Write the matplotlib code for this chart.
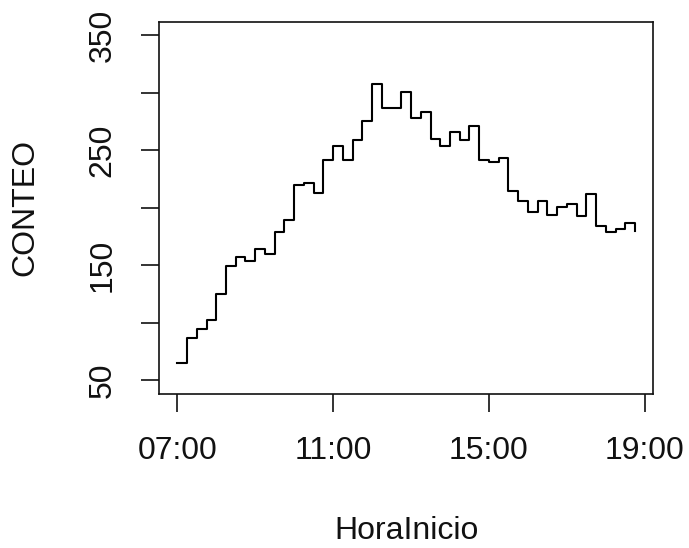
import numpy as np
import matplotlib
matplotlib.use("Agg")
import matplotlib.pyplot as plt

# conteo cada 15 minutos, de 07:00 a 18:45
hora_inicio = np.arange(7.0, 19.0, 0.25)
conteo = [65, 87, 95, 102, 125, 149, 157, 154, 164, 160, 179, 189,
          220, 222, 213, 242, 254, 242, 259, 276, 308, 287, 287, 301,
          278, 283, 260, 254, 266, 259, 271, 242, 240, 243, 215, 206,
          196, 206, 194, 201, 203, 193, 212, 184, 179, 182, 187, 180]

xticks = [7, 11, 15, 19]
xtick_labels = ["07:00", "11:00", "15:00", "19:00"]
yticks = [50, 100, 150, 200, 250, 300, 350]
ytick_labels = ["50", "", "150", "", "250", "", "350"]

plt.rcParams['font.family'] = ['Liberation Sans', 'DejaVu Sans']

fig = plt.figure(figsize=(6.89, 5.48), dpi=100)
ax = fig.add_axes([0.2308, 0.2810, 0.9482 - 0.2308, 0.9604 - 0.2810])

ax.step(hora_inicio, conteo, where='post', color='black', linewidth=1.5)

# rangos como en R (4% extra)
x0, x1 = hora_inicio[0], hora_inicio[-1]
dx = 0.04 * (x1 - x0)
ax.set_xlim(x0 - dx, x1 + dx)
ax.set_ylim(50 - 12, 350 + 12)

ax.set_xticks(xticks)
ax.set_xticklabels(xtick_labels)
ax.set_yticks(yticks)
ax.set_yticklabels(ytick_labels, rotation=90, va='center')

ax.tick_params(axis='both', length=13, width=1.2, labelsize=23, pad=17, colors='#111111')
for s in ax.spines.values():
    s.set_linewidth(1.2)
    s.set_color('#111111')

ax.set_xlabel("HoraInicio", fontsize=23, labelpad=36, color='#111111')
ax.set_ylabel("CONTEO", fontsize=23, labelpad=34, color='#111111')

fig.savefig("out.png", dpi=100)
